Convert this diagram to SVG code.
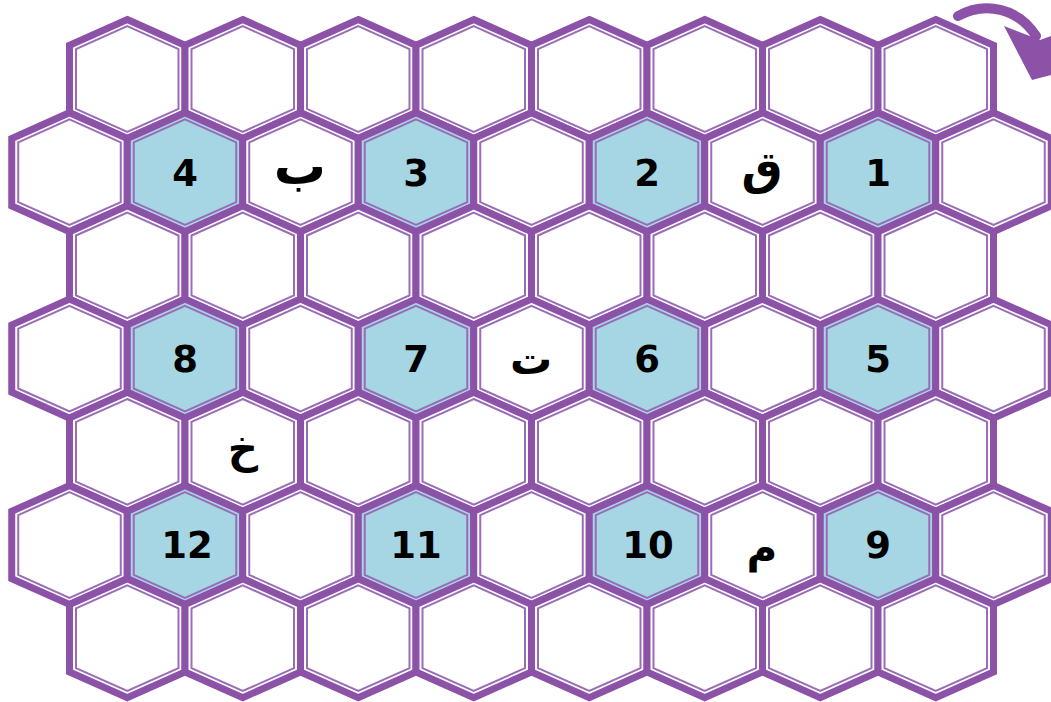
<svg xmlns="http://www.w3.org/2000/svg" xmlns:xlink="http://www.w3.org/1999/xlink" width="1051" height="702" viewBox="0 0 1051 702">
<style>
.o{fill:#ffffff;stroke:#8b52a8;stroke-width:7;stroke-linejoin:miter}
.b{fill:#a6d6e4;stroke:#8b52a8;stroke-width:7;stroke-linejoin:miter}
.i{fill:none;stroke:#9a6cb8;stroke-width:2}
.n{font-family:"DejaVu Sans",sans-serif;font-weight:bold;font-size:37px;fill:#000;text-anchor:middle}
.a{font-family:"DejaVu Sans","Noto Sans",sans-serif;font-weight:bold;font-size:42px;fill:#000;text-anchor:middle}
</style>
<defs>
<polygon id="h" points="0,-59.5 57.75,-33.7 57.75,33.7 0,59.5 -57.75,33.7 -57.75,-33.7"/>
<polygon id="hi" points="0,-52.8 51.25,-29.9 51.25,29.9 0,52.8 -51.25,29.9 -51.25,-29.9"/>
</defs>
<rect width="1051" height="702" fill="#ffffff"/>
<g id="row1">
<g id="r1c0"><use href="#h" class="o" x="127.25" y="79"/><use href="#hi" class="i" x="127.25" y="79"/></g>
<g id="r1c1"><use href="#h" class="o" x="242.75" y="79"/><use href="#hi" class="i" x="242.75" y="79"/></g>
<g id="r1c2"><use href="#h" class="o" x="358.25" y="79"/><use href="#hi" class="i" x="358.25" y="79"/></g>
<g id="r1c3"><use href="#h" class="o" x="473.75" y="79"/><use href="#hi" class="i" x="473.75" y="79"/></g>
<g id="r1c4"><use href="#h" class="o" x="589.25" y="79"/><use href="#hi" class="i" x="589.25" y="79"/></g>
<g id="r1c5"><use href="#h" class="o" x="704.75" y="79"/><use href="#hi" class="i" x="704.75" y="79"/></g>
<g id="r1c6"><use href="#h" class="o" x="820.25" y="79"/><use href="#hi" class="i" x="820.25" y="79"/></g>
<g id="r1c7"><use href="#h" class="o" x="935.75" y="79"/><use href="#hi" class="i" x="935.75" y="79"/></g>
</g>
<g id="row2">
<g id="r2c0"><use href="#h" class="o" x="69.5" y="172.2"/><use href="#hi" class="i" x="69.5" y="172.2"/></g>
<g id="r2c1"><use href="#h" class="b" x="185" y="172.2"/><use href="#hi" class="i" x="185" y="172.2"/><text class="n" x="185" y="186">4</text></g>
<g id="r2c2"><use href="#h" class="o" x="300.5" y="172.2"/><use href="#hi" class="i" x="300.5" y="172.2"/><text class="a" x="300" y="184" style="font-size:52px">ب</text></g>
<g id="r2c3"><use href="#h" class="b" x="416" y="172.2"/><use href="#hi" class="i" x="416" y="172.2"/><text class="n" x="416" y="186">3</text></g>
<g id="r2c4"><use href="#h" class="o" x="531.5" y="172.2"/><use href="#hi" class="i" x="531.5" y="172.2"/></g>
<g id="r2c5"><use href="#h" class="b" x="647" y="172.2"/><use href="#hi" class="i" x="647" y="172.2"/><text class="n" x="647" y="186">2</text></g>
<g id="r2c6"><use href="#h" class="o" x="762.5" y="172.2"/><use href="#hi" class="i" x="762.5" y="172.2"/><text class="a" x="762" y="184" style="font-size:46px">ق</text></g>
<g id="r2c7"><use href="#h" class="b" x="878" y="172.2"/><use href="#hi" class="i" x="878" y="172.2"/><text class="n" x="878" y="186">1</text></g>
<g id="r2c8"><use href="#h" class="o" x="993.5" y="172.2"/><use href="#hi" class="i" x="993.5" y="172.2"/></g>
</g>
<g id="row3">
<g id="r3c0"><use href="#h" class="o" x="127.25" y="265.4"/><use href="#hi" class="i" x="127.25" y="265.4"/></g>
<g id="r3c1"><use href="#h" class="o" x="242.75" y="265.4"/><use href="#hi" class="i" x="242.75" y="265.4"/></g>
<g id="r3c2"><use href="#h" class="o" x="358.25" y="265.4"/><use href="#hi" class="i" x="358.25" y="265.4"/></g>
<g id="r3c3"><use href="#h" class="o" x="473.75" y="265.4"/><use href="#hi" class="i" x="473.75" y="265.4"/></g>
<g id="r3c4"><use href="#h" class="o" x="589.25" y="265.4"/><use href="#hi" class="i" x="589.25" y="265.4"/></g>
<g id="r3c5"><use href="#h" class="o" x="704.75" y="265.4"/><use href="#hi" class="i" x="704.75" y="265.4"/></g>
<g id="r3c6"><use href="#h" class="o" x="820.25" y="265.4"/><use href="#hi" class="i" x="820.25" y="265.4"/></g>
<g id="r3c7"><use href="#h" class="o" x="935.75" y="265.4"/><use href="#hi" class="i" x="935.75" y="265.4"/></g>
</g>
<g id="row4">
<g id="r4c0"><use href="#h" class="o" x="69.5" y="358.6"/><use href="#hi" class="i" x="69.5" y="358.6"/></g>
<g id="r4c1"><use href="#h" class="b" x="185" y="358.6"/><use href="#hi" class="i" x="185" y="358.6"/><text class="n" x="185" y="372">8</text></g>
<g id="r4c2"><use href="#h" class="o" x="300.5" y="358.6"/><use href="#hi" class="i" x="300.5" y="358.6"/></g>
<g id="r4c3"><use href="#h" class="b" x="416" y="358.6"/><use href="#hi" class="i" x="416" y="358.6"/><text class="n" x="416" y="372">7</text></g>
<g id="r4c4"><use href="#h" class="o" x="531.5" y="358.6"/><use href="#hi" class="i" x="531.5" y="358.6"/><text class="a" x="531" y="374">ت</text></g>
<g id="r4c5"><use href="#h" class="b" x="647" y="358.6"/><use href="#hi" class="i" x="647" y="358.6"/><text class="n" x="647" y="372">6</text></g>
<g id="r4c6"><use href="#h" class="o" x="762.5" y="358.6"/><use href="#hi" class="i" x="762.5" y="358.6"/></g>
<g id="r4c7"><use href="#h" class="b" x="878" y="358.6"/><use href="#hi" class="i" x="878" y="358.6"/><text class="n" x="878" y="372">5</text></g>
<g id="r4c8"><use href="#h" class="o" x="993.5" y="358.6"/><use href="#hi" class="i" x="993.5" y="358.6"/></g>
</g>
<g id="row5">
<g id="r5c0"><use href="#h" class="o" x="127.25" y="451.8"/><use href="#hi" class="i" x="127.25" y="451.8"/></g>
<g id="r5c1"><use href="#h" class="o" x="242.75" y="451.8"/><use href="#hi" class="i" x="242.75" y="451.8"/><text class="a" x="243" y="463">خ</text></g>
<g id="r5c2"><use href="#h" class="o" x="358.25" y="451.8"/><use href="#hi" class="i" x="358.25" y="451.8"/></g>
<g id="r5c3"><use href="#h" class="o" x="473.75" y="451.8"/><use href="#hi" class="i" x="473.75" y="451.8"/></g>
<g id="r5c4"><use href="#h" class="o" x="589.25" y="451.8"/><use href="#hi" class="i" x="589.25" y="451.8"/></g>
<g id="r5c5"><use href="#h" class="o" x="704.75" y="451.8"/><use href="#hi" class="i" x="704.75" y="451.8"/></g>
<g id="r5c6"><use href="#h" class="o" x="820.25" y="451.8"/><use href="#hi" class="i" x="820.25" y="451.8"/></g>
<g id="r5c7"><use href="#h" class="o" x="935.75" y="451.8"/><use href="#hi" class="i" x="935.75" y="451.8"/></g>
</g>
<g id="row6">
<g id="r6c0"><use href="#h" class="o" x="69.5" y="545"/><use href="#hi" class="i" x="69.5" y="545"/></g>
<g id="r6c1"><use href="#h" class="b" x="185" y="545"/><use href="#hi" class="i" x="185" y="545"/><text class="n" x="187" y="558">12</text></g>
<g id="r6c2"><use href="#h" class="o" x="300.5" y="545"/><use href="#hi" class="i" x="300.5" y="545"/></g>
<g id="r6c3"><use href="#h" class="b" x="416" y="545"/><use href="#hi" class="i" x="416" y="545"/><text class="n" x="416" y="558">11</text></g>
<g id="r6c4"><use href="#h" class="o" x="531.5" y="545"/><use href="#hi" class="i" x="531.5" y="545"/></g>
<g id="r6c5"><use href="#h" class="b" x="647" y="545"/><use href="#hi" class="i" x="647" y="545"/><text class="n" x="648" y="558">10</text></g>
<g id="r6c6"><use href="#h" class="o" x="762.5" y="545"/><use href="#hi" class="i" x="762.5" y="545"/><text class="a" x="762" y="562">م</text></g>
<g id="r6c7"><use href="#h" class="b" x="878" y="545"/><use href="#hi" class="i" x="878" y="545"/><text class="n" x="878" y="558">9</text></g>
<g id="r6c8"><use href="#h" class="o" x="993.5" y="545"/><use href="#hi" class="i" x="993.5" y="545"/></g>
</g>
<g id="row7">
<g id="r7c0"><use href="#h" class="o" x="127.25" y="638.2"/><use href="#hi" class="i" x="127.25" y="638.2"/></g>
<g id="r7c1"><use href="#h" class="o" x="242.75" y="638.2"/><use href="#hi" class="i" x="242.75" y="638.2"/></g>
<g id="r7c2"><use href="#h" class="o" x="358.25" y="638.2"/><use href="#hi" class="i" x="358.25" y="638.2"/></g>
<g id="r7c3"><use href="#h" class="o" x="473.75" y="638.2"/><use href="#hi" class="i" x="473.75" y="638.2"/></g>
<g id="r7c4"><use href="#h" class="o" x="589.25" y="638.2"/><use href="#hi" class="i" x="589.25" y="638.2"/></g>
<g id="r7c5"><use href="#h" class="o" x="704.75" y="638.2"/><use href="#hi" class="i" x="704.75" y="638.2"/></g>
<g id="r7c6"><use href="#h" class="o" x="820.25" y="638.2"/><use href="#hi" class="i" x="820.25" y="638.2"/></g>
<g id="r7c7"><use href="#h" class="o" x="935.75" y="638.2"/><use href="#hi" class="i" x="935.75" y="638.2"/></g>
</g>
<g id="connectors">
<g id="arrow" fill="#8b52a8">
<path d="M958,16 C985,1 1018,8 1036,36" fill="none" stroke="#8b52a8" stroke-width="10" stroke-linecap="round"/>
<polygon points="1004,26 1040,40 1062,32 1062,72 1032,80"/>
</g>
</g>
</svg>
